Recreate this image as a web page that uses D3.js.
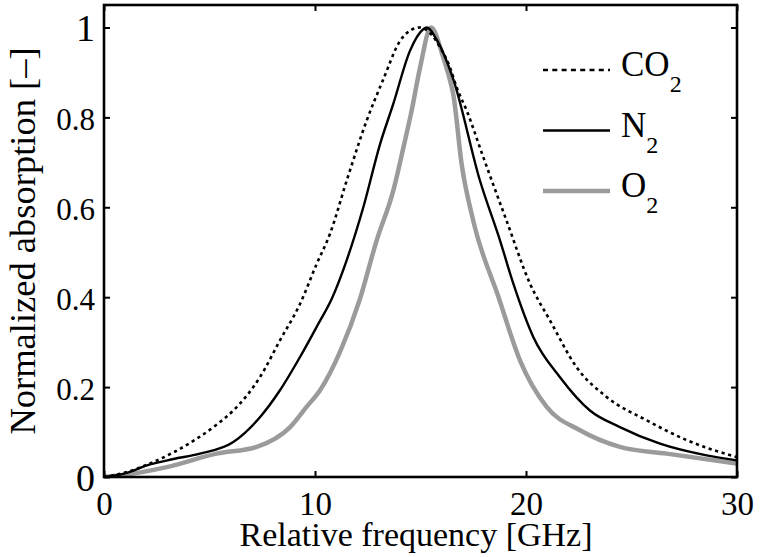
<!DOCTYPE html>
<html>
<head>
<meta charset="utf-8">
<script src="https://cdn.jsdelivr.net/npm/d3@7"></script>
<style>
  body { margin: 0; background: #fff; }
  svg { display: block; }
</style>
</head>
<body>
<svg id="chart" width="766" height="557" font-family="Liberation Serif"></svg>
<script>
// ---- data ----
const seriesNames = ["CO2", "N2", "O2"];

const co2Freq = [0, 1, 2.18, 3.3, 4.39, 5.3, 6.13, 7.39, 8.34, 9.29, 10.08, 10.71, 11.5, 12.45, 13.24, 14.03, 14.5, 14.97, 15.5, 16.0, 16.4, 16.71, 17.19, 17.98, 19.08, 20.19, 21.14, 22.4, 23.82, 25.72, 27.62, 30];
const co2Abs  = [0, 0.01, 0.03, 0.055, 0.085, 0.115, 0.148, 0.222, 0.304, 0.385, 0.474, 0.541, 0.659, 0.793, 0.885, 0.97, 0.993, 1.0, 0.985, 0.95, 0.911, 0.867, 0.815, 0.711, 0.57, 0.43, 0.348, 0.244, 0.178, 0.126, 0.082, 0.044];

const n2Freq = [0, 1, 2.18, 3.3, 4.55, 6.13, 7.39, 8.34, 9.29, 10.16, 10.79, 11.5, 12.29, 13.08, 13.71, 14.5, 15.13, 15.29, 15.8, 16.55, 17.82, 18.77, 19.4, 20.35, 21.61, 23.03, 24.45, 26.35, 28.56, 30];
const n2Abs  = [0, 0.008, 0.028, 0.04, 0.052, 0.078, 0.133, 0.193, 0.267, 0.341, 0.396, 0.482, 0.6, 0.74, 0.83, 0.948, 0.996, 1.0, 0.97, 0.885, 0.659, 0.526, 0.43, 0.311, 0.222, 0.148, 0.111, 0.074, 0.048, 0.037];

const o2Freq = [0, 1, 2.97, 5.34, 7.24, 8.82, 9.6, 10.24, 11.2, 12.13, 12.92, 13.71, 14.19, 14.58, 14.98, 15.5, 16.08, 16.4, 16.55, 16.95, 17.5, 18.7, 19.72, 20.98, 22.56, 24.45, 26.67, 30];
const o2Abs  = [0, 0.005, 0.022, 0.052, 0.067, 0.111, 0.156, 0.193, 0.28, 0.396, 0.526, 0.637, 0.733, 0.815, 0.911, 1.0, 0.933, 0.882, 0.852, 0.696, 0.57, 0.4, 0.259, 0.156, 0.104, 0.067, 0.052, 0.03];

const xTicks = [0, 10, 20, 30];
const yTicks = [0, 0.2, 0.4, 0.6, 0.8, 1];
const yTickLabels = ["0", "0.2", "0.4", "0.6", "0.8", "1"];
const xLabel = "Relative frequency [GHz]";
const yLabel = "Normalized absorption [–]";

const FONT = "Liberation Serif";

// ---- layout ----
const svg = d3.select("#chart");
const m = { left: 104, right: 766 - 737, top: 5, bottom: 557 - 477 };
const W = 766 - m.left - m.right, H = 557 - m.top - m.bottom;

const x = d3.scaleLinear().domain([0, 30]).range([0, W]);
const y = d3.scaleLinear().domain([0, 1.05]).range([H, 0]);

const g = svg.append("g").attr("transform", `translate(${m.left},${m.top})`);

const series = [
  { name: "CO2", freq: co2Freq, abs: co2Abs, color: "#000", width: 2.6, dash: "3.2,3.6", legendDash: "5,4.3" },
  { name: "N2",  freq: n2Freq,  abs: n2Abs,  color: "#000", width: 2.4, dash: null, legendDash: null },
  { name: "O2",  freq: o2Freq,  abs: o2Abs,  color: "#9b9b9b", width: 4.5, dash: null, legendDash: null }
];

const line = d3.line().x(d => x(d[0])).y(d => y(d[1])).curve(d3.curveMonotoneX);

g.append("defs").append("clipPath").attr("id", "clip")
  .append("rect").attr("width", W).attr("height", H);

const plot = g.append("g").attr("clip-path", "url(#clip)");
[series[2], series[1], series[0]].forEach(s => {
  const pts = s.freq.map((f, i) => [f, s.abs[i]]);
  plot.append("path").datum(pts)
    .attr("d", line)
    .attr("fill", "none")
    .attr("stroke", s.color)
    .attr("stroke-width", s.width)
    .attr("stroke-linejoin", "round")
    .attr("stroke-dasharray", s.dash);
});

// ---- axes (ticks inward, on all four sides) ----
const axisStyle = sel => {
  sel.attr("font-family", FONT);
  sel.select(".domain").remove();
  sel.selectAll(".tick line").attr("stroke", "#000").attr("stroke-width", 2);
  sel.selectAll(".tick text").attr("font-family", FONT).attr("fill", "#000");
};

const xb = g.append("g").attr("transform", `translate(0,${H})`)
  .call(d3.axisBottom(x).tickValues(xTicks).tickFormat(d3.format("d")).tickSize(-6).tickPadding(14));
axisStyle(xb);
xb.selectAll(".tick text").attr("font-size", 33).attr("dy", null).attr("y", 38);

const xt = g.append("g").call(d3.axisTop(x).tickValues(xTicks).tickSize(-6).tickFormat(""));
axisStyle(xt);

const yl = g.append("g")
  .call(d3.axisLeft(y).tickValues(yTicks).tickFormat((d, i) => yTickLabels[i]).tickSize(-6).tickPadding(8));
axisStyle(yl);
yl.selectAll(".tick text")
  .attr("font-size", d => (d === 0 || d === 1) ? 38 : 31)
  .attr("dy", null)
  .attr("y", d => (d === 0 || d === 1) ? 13 : 12)
  .attr("x", -9);

const yr = g.append("g").attr("transform", `translate(${W},0)`)
  .call(d3.axisRight(y).tickValues(yTicks).tickSize(-6).tickFormat(""));
axisStyle(yr);

// frame
g.append("rect").attr("width", W).attr("height", H)
  .attr("fill", "none").attr("stroke", "#000").attr("stroke-width", 2.6);

// axis titles
svg.append("text")
  .attr("x", 416).attr("y", 546)
  .attr("text-anchor", "middle").attr("font-size", 34)
  .attr("font-family", FONT)
  .text(xLabel);

svg.append("text")
  .attr("transform", `translate(35,${241}) rotate(-90)`)
  .attr("text-anchor", "middle").attr("font-size", 36.5)
  .attr("font-family", FONT)
  .text(yLabel);

// ---- legend ----
const legendRows = [
  { s: series[0], base: "CO", baseline: 76 },
  { s: series[1], base: "N", baseline: 136.5 },
  { s: series[2], base: "O", baseline: 197 }
];
const lg = svg.append("g").attr("font-family", FONT);
legendRows.forEach(r => {
  lg.append("line")
    .attr("x1", 543).attr("x2", 610)
    .attr("y1", r.baseline - 6).attr("y2", r.baseline - 6)
    .attr("stroke", r.s.color).attr("stroke-width", r.s.width)
    .attr("stroke-dasharray", r.s.legendDash);
  const t = lg.append("text").attr("x", 621).attr("y", r.baseline).attr("font-size", 35)
    .attr("font-family", FONT);
  t.append("tspan").text(r.base);
  t.append("tspan").attr("font-size", 24).attr("dy", 16).text("2");
});
</script>
</body>
</html>
